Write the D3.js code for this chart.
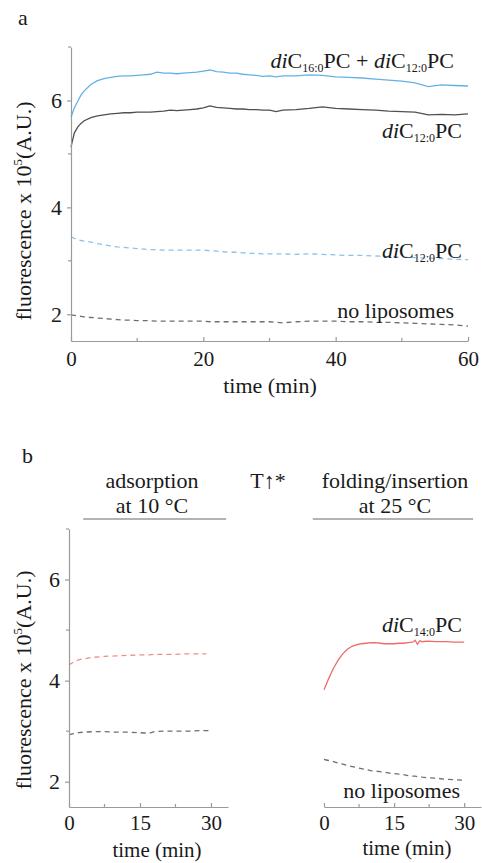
<!DOCTYPE html>
<html>
<head>
<meta charset="UTF-8">
<title>Fluorescence kinetics</title>
<script src="https://d3js.org/d3.v7.min.js"></script>
<style>
  body { margin: 0; background: #fff; }
  svg, svg text { font-family: "Liberation Serif", "Times New Roman", Times, "DejaVu Serif", serif; }
  svg text { fill: #1a1a1a; }
</style>
</head>
<body>
<div id="chart"></div>
<script>
// ---- panel a data (time in min, fluorescence x 10^5) ----
var timeA = [0, 0.5, 1, 1.5, 2, 3, 4, 5, 6, 7, 8, 9, 10, 11, 12, 13, 14, 15, 16, 17, 18, 19, 20, 21, 22, 23, 24, 25, 26, 27, 28, 29, 30, 31, 32, 34, 36, 38, 40, 42, 44, 46, 48, 50, 52, 54, 56, 58, 60];
var mixA   = [5.69, 5.86, 5.98, 6.10, 6.18, 6.30, 6.37, 6.41, 6.43, 6.45, 6.46, 6.46, 6.47, 6.48, 6.49, 6.53, 6.51, 6.51, 6.50, 6.51, 6.52, 6.53, 6.55, 6.57, 6.54, 6.53, 6.51, 6.51, 6.49, 6.48, 6.47, 6.45, 6.46, 6.44, 6.46, 6.46, 6.48, 6.47, 6.44, 6.43, 6.42, 6.40, 6.38, 6.36, 6.33, 6.26, 6.29, 6.28, 6.27];
var c12A   = [5.13, 5.39, 5.50, 5.57, 5.62, 5.68, 5.71, 5.73, 5.75, 5.76, 5.77, 5.77, 5.78, 5.78, 5.78, 5.79, 5.80, 5.82, 5.81, 5.82, 5.83, 5.84, 5.86, 5.90, 5.87, 5.86, 5.85, 5.84, 5.84, 5.83, 5.83, 5.82, 5.82, 5.79, 5.82, 5.83, 5.85, 5.88, 5.85, 5.84, 5.83, 5.82, 5.80, 5.79, 5.78, 5.73, 5.74, 5.73, 5.75];
var c12DashA = [3.45, 3.42, 3.40, 3.38, 3.37, 3.35, 3.32, 3.30, 3.28, 3.26, 3.25, 3.24, 3.23, 3.22, 3.21, 3.21, 3.20, 3.20, 3.20, 3.20, 3.20, 3.20, 3.20, 3.19, 3.18, 3.17, 3.16, 3.16, 3.15, 3.14, 3.14, 3.13, 3.13, 3.13, 3.13, 3.12, 3.13, 3.12, 3.11, 3.10, 3.10, 3.09, 3.08, 3.07, 3.06, 3.05, 3.04, 3.03, 3.02];
var noLipA = [1.99, 1.98, 1.97, 1.96, 1.95, 1.94, 1.93, 1.92, 1.91, 1.90, 1.89, 1.89, 1.88, 1.88, 1.88, 1.87, 1.87, 1.87, 1.87, 1.87, 1.87, 1.87, 1.87, 1.86, 1.86, 1.86, 1.86, 1.86, 1.86, 1.86, 1.86, 1.86, 1.86, 1.85, 1.84, 1.86, 1.87, 1.87, 1.87, 1.86, 1.86, 1.85, 1.85, 1.84, 1.83, 1.82, 1.81, 1.80, 1.78];

// ---- panel b data ----
var timeB10 = [0, 1, 2, 3, 5, 7.5, 10, 12.5, 15, 17, 18, 20, 22.5, 25, 27.5, 29, 30];
var c14Dash10 = [4.31, 4.37, 4.41, 4.43, 4.46, 4.48, 4.49, 4.50, 4.51, 4.51, 4.52, 4.52, 4.52, 4.53, 4.53, 4.53, null];
var noLip10   = [2.93, 2.95, 2.97, 2.98, 2.99, 2.99, 2.98, 2.98, 2.97, 2.96, 2.99, 3.00, 3.00, 3.00, 3.01, 3.01, 3.01];

var timeB25 = [0, 0.5, 1, 1.5, 2, 3, 4, 5, 6, 7, 8, 9, 10, 11, 12, 13, 14, 15, 16, 17, 18, 19, 19.5, 20, 20.5, 21, 22, 24, 26, 28, 30];
var c14Solid25 = [3.82, 3.93, 4.04, 4.14, 4.24, 4.40, 4.53, 4.62, 4.68, 4.71, 4.73, 4.74, 4.75, 4.75, 4.74, 4.73, 4.73, 4.73, 4.74, 4.74, 4.75, 4.76, 4.80, 4.72, 4.79, 4.77, 4.78, 4.77, 4.77, 4.76, 4.76];
var noLip25 = [2.44, 2.43, 2.42, 2.41, 2.40, 2.37, 2.35, 2.32, 2.30, 2.28, 2.26, 2.24, 2.22, 2.21, 2.20, 2.19, 2.17, 2.16, 2.15, 2.14, 2.12, 2.11, 2.11, 2.10, 2.10, 2.09, 2.08, 2.07, 2.05, 2.04, 2.03];

// ticks
var yMajor = [2, 4, 6], yMinor = [3, 5, 7];
var xMajorA = [0, 20, 40, 60], xMinorA = [10, 30, 50];
var xMajorB = [0, 15, 30], xMinorB = [7.5, 22.5];

var W = 482, H = 863;
var svg = d3.select("#chart").append("svg")
    .attr("width", W).attr("height", H);

var axisColor = "#9a9a9a";
var fontStack = "'Liberation Serif', 'Times New Roman', Times, 'DejaVu Serif', serif";

// helper: zip time and values into points, skipping gaps
function pts(t, v) {
    return t.map(function(d, i) { return [d, v[i]]; })
        .filter(function(p) { return p[1] !== null; });
}

function drawLine(x, y, data, colour, dashed) {
    var line = d3.line()
        .x(function(d) { return x(d[0]); })
        .y(function(d) { return y(d[1]); });
    svg.append("path")
        .attr("d", line(data))
        .attr("fill", "none")
        .attr("stroke", colour)
        .attr("stroke-width", 1.3)
        .attr("stroke-dasharray", dashed ? "5,4" : null);
}

// y axis with outward ticks + small minor ticks
function yAxis(x0, y) {
    var g = svg.append("g").attr("transform", "translate(" + x0 + ",0)");
    g.call(d3.axisLeft(y).tickValues(yMajor).tickFormat(d3.format("d"))
        .tickSize(4).tickSizeOuter(0).tickPadding(5));
    g.selectAll(".minor").data(yMinor).enter().append("line")
        .attr("x1", -3).attr("x2", 0)
        .attr("y1", function(d) { return y(d); })
        .attr("y2", function(d) { return y(d); });
    styleAxis(g, "22px");
}

// x axis with inward ticks
function xAxis(y0, x, major, minor, pad) {
    var g = svg.append("g").attr("transform", "translate(0," + y0 + ")");
    g.call(d3.axisBottom(x).tickValues(major).tickFormat(d3.format("d"))
        .tickSize(-4).tickSizeOuter(0).tickPadding(pad));
    g.selectAll(".minor").data(minor).enter().append("line")
        .attr("y1", -3).attr("y2", 0)
        .attr("x1", function(d) { return x(d); })
        .attr("x2", function(d) { return x(d); });
    styleAxis(g, "21px");
}

function styleAxis(g, size) {
    g.selectAll("path, line").attr("stroke", axisColor).attr("stroke-width", 1.2);
    g.selectAll("text").attr("font-size", size).attr("fill", "#1a1a1a")
        .attr("font-family", fontStack);
}

function yLabel(x0, yc) {
    var t = svg.append("text")
        .attr("transform", "translate(" + x0 + "," + yc + ") rotate(-90)")
        .attr("text-anchor", "middle")
        .attr("font-size", "22px");
    t.append("tspan").text("fluorescence x 10");
    t.append("tspan").attr("font-size", "13px").attr("dy", "-9").text("5");
    t.append("tspan").attr("dy", "9").text("(A.U.)");
}

// label like "diC12:0PC"
function lipidLabel(parent, sub) {
    parent.append("tspan").attr("font-style", "italic").text("di");
    parent.append("tspan").text("C");
    parent.append("tspan").attr("font-size", "12px").attr("dy", "4").text(sub);
    parent.append("tspan").attr("dy", "-4").text("PC");
}

function label(x0, y0, anchor, size) {
    return svg.append("text").attr("x", x0).attr("y", y0)
        .attr("text-anchor", anchor || "end").attr("font-size", size || "22px");
}

// ================= panel a =================
var xA = d3.scaleLinear().domain([0, 60]).range([71, 468]);
var yA = d3.scaleLinear().domain([1.5, 7]).range([341, 47]);

drawLine(xA, yA, pts(timeA, noLipA), "#6e6e6e", true);
drawLine(xA, yA, pts(timeA, c12DashA), "#86c4ea", true);
drawLine(xA, yA, pts(timeA, c12A), "#505050", false);
drawLine(xA, yA, pts(timeA, mixA), "#62b2e3", false);

yAxis(71, yA);
xAxis(341, xA, xMajorA, xMinorA, 10);
yLabel(31, 211);

label(270, 393, "middle").text("time (min)");
label(18, 25, "start").text("a");

var l1 = label(454, 68);
lipidLabel(l1, "16:0");
l1.append("tspan").text(" + ");
lipidLabel(l1, "12:0");
lipidLabel(label(462, 138), "12:0");
lipidLabel(label(462, 258), "12:0");
label(454, 318).text("no liposomes");

// ================= panel b =================
var yB = d3.scaleLinear().domain([1.5, 7]).range([807, 529]);
var xB10 = d3.scaleLinear().domain([0, 33.6]).range([69, 228]);
var xB25 = d3.scaleLinear().domain([0, 33.6]).range([324, 481]);

drawLine(xB10, yB, pts(timeB10, c14Dash10), "#f08c8c", true);
drawLine(xB10, yB, pts(timeB10, noLip10), "#6e6e6e", true);
drawLine(xB25, yB, pts(timeB25, noLip25), "#6e6e6e", true);
drawLine(xB25, yB, pts(timeB25, c14Solid25), "#f06a6a", false);

yAxis(69, yB);
xAxis(807, xB10, xMajorB, xMinorB, 8);
xAxis(807, xB25, xMajorB, xMinorB, 8);
yLabel(31, 680);

label(157, 857, "middle", "21px").text("time (min)");
label(407, 855, "middle", "21px").text("time (min)");
label(22, 463, "start").text("b");

label(152, 488, "middle").text("adsorption");
label(152, 513, "middle").text("at 10 °C");
label(268, 488, "middle").text("T↑*");
label(395, 488, "middle").text("folding/insertion");
label(395, 513, "middle").text("at 25 °C");

// header rules under the phase titles
svg.append("line").attr("x1", xB10(3)).attr("x2", xB10(33.2))
    .attr("y1", 519).attr("y2", 519).attr("stroke", axisColor).attr("stroke-width", 1.6);
svg.append("line").attr("x1", xB25(-2.4)).attr("x2", xB25(31.9))
    .attr("y1", 519).attr("y2", 519).attr("stroke", axisColor).attr("stroke-width", 1.6);

lipidLabel(label(462, 632), "14:0");
label(460, 798).text("no liposomes");
</script>
</body>
</html>
